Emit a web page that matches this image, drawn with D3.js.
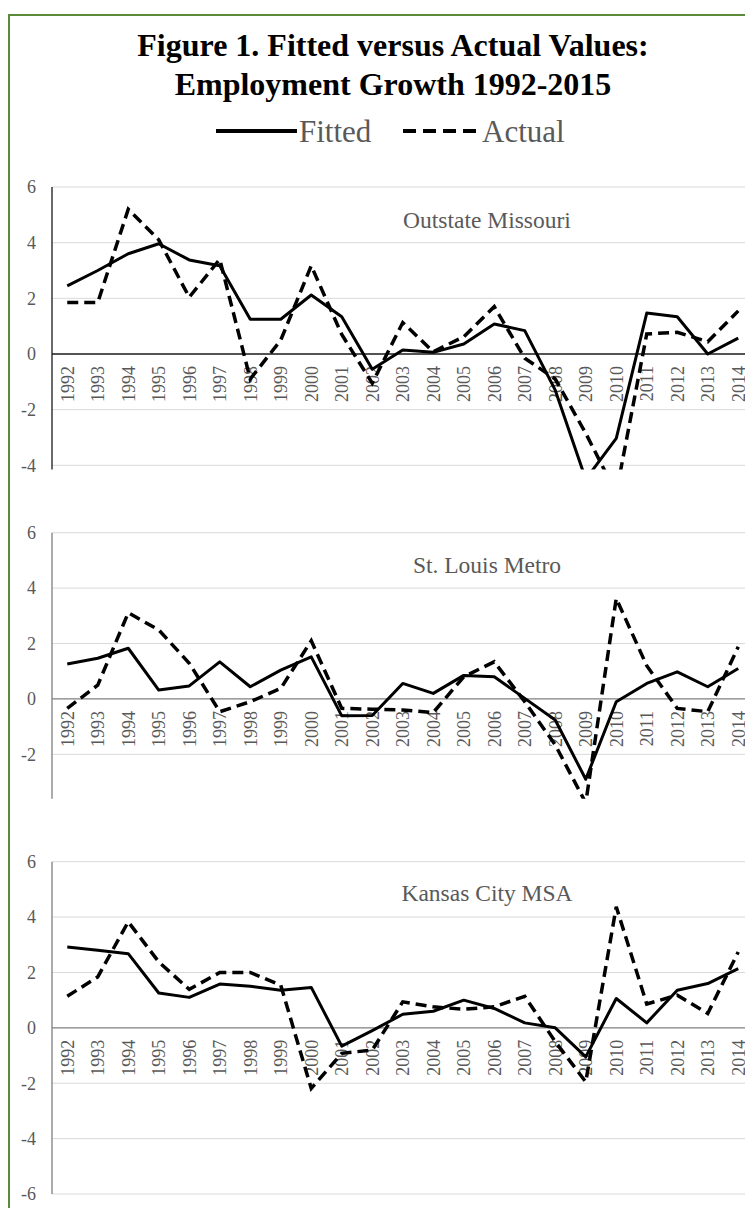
<!DOCTYPE html>
<meta charset="utf-8">
<head>
<script src="https://d3js.org/d3.v7.min.js"></script>
<style>
  body { margin: 0; background: #fff; }
  svg text { font-family: "Liberation Serif", "Times New Roman", serif; }
</style>
</head>
<body>
<svg id="chart" width="745" height="1208"></svg>

<script>
// data (annual employment growth, %)
var years = ["1992","1993","1994","1995","1996","1997","1998","1999","2000","2001","2002","2003",
             "2004","2005","2006","2007","2008","2009","2010","2011","2012","2013","2014"];

var outstateFitted = [2.45, 3.0, 3.6, 3.96, 3.38, 3.17, 1.25, 1.25, 2.12, 1.34, -0.55, 0.14,
                      0.06, 0.36, 1.08, 0.84, -1.3, -4.5, -3.03, 1.47, 1.34, 0.0, 0.57];
var outstateActual = [1.85, 1.85, 5.2, 4.1, 2.04, 3.4, -0.9, 0.5, 3.17, 0.7, -1.05, 1.13,
                      0.08, 0.62, 1.7, -0.15, -0.9, -2.85, -5.0, 0.72, 0.78, 0.44, 1.55];

var stlFitted = [1.26, 1.47, 1.83, 0.32, 0.47, 1.34, 0.44, 1.04, 1.52, -0.61, -0.6, 0.56,
                 0.2, 0.85, 0.8, 0.02, -0.76, -2.9, -0.1, 0.56, 0.98, 0.44, 1.1];
var stlActual = [-0.34, 0.5, 3.11, 2.49, 1.29, -0.46, -0.1, 0.38, 2.1, -0.34, -0.37, -0.4,
                 -0.49, 0.8, 1.34, -0.1, -1.66, -3.75, 3.63, 1.2, -0.34, -0.46, 1.88];

var kcFitted = [2.92, 2.8, 2.68, 1.26, 1.1, 1.58, 1.5, 1.36, 1.46, -0.66, -0.1, 0.49,
                0.6, 1.0, 0.7, 0.18, 0.0, -1.05, 1.06, 0.18, 1.36, 1.6, 2.14];
var kcActual = [1.14, 1.84, 3.83, 2.38, 1.39, 2.0, 2.0, 1.54, -2.19, -0.92, -0.8, 0.94,
                0.76, 0.67, 0.76, 1.14, -0.5, -1.95, 4.37, 0.86, 1.18, 0.52, 2.74];

var panelNames = ["Outstate Missouri", "St. Louis Metro", "Kansas City MSA"];
var panelTicks = [[-4, -2, 0, 2, 4, 6], [-2, 0, 2, 4, 6], [-6, -4, -2, 0, 2, 4, 6]];
var panelDomains = [[-4.15, 6], [-3.6, 6], [-6, 6]];

var seriesNames = ["Fitted", "Actual"];

// layout
var svg = d3.select("#chart");
var textGray = "#595959";
var gridGray = "#d9d9d9";
var panels = [
  { name: panelNames[0], fitted: outstateFitted, actual: outstateActual, top: 187, bottom: 469.5, axis: "#1a1a1a" },
  { name: panelNames[1], fitted: stlFitted, actual: stlActual, top: 532.7, bottom: 798.7, axis: "#7f7f7f" },
  { name: panelNames[2], fitted: kcFitted, actual: kcActual, top: 861.7, bottom: 1194, axis: "#7f7f7f" }
];

// green frame (cut off on the right and bottom like the original)
svg.append("rect")
  .attr("x", 9).attr("y", 15)
  .attr("width", 800).attr("height", 1300)
  .attr("fill", "none")
  .attr("stroke", "#5b8b3a")
  .attr("stroke-width", 2);

// title
var title = svg.append("text")
  .attr("text-anchor", "middle")
  .attr("font-weight", "bold")
  .attr("font-size", 32)
  .attr("fill", "#000");
title.append("tspan").attr("x", 393).attr("y", 56).text("Figure 1. Fitted versus Actual Values:");
title.append("tspan").attr("x", 393).attr("y", 95).text("Employment Growth 1992-2015");

// legend
var legend = svg.append("g");
legend.append("line")
  .attr("x1", 216).attr("x2", 297).attr("y1", 131).attr("y2", 131)
  .attr("stroke", "#000").attr("stroke-width", 4);
legend.append("text")
  .attr("x", 299).attr("y", 142)
  .attr("font-size", 31).attr("fill", textGray)
  .text(seriesNames[0]);
legend.append("line")
  .attr("x1", 403).attr("x2", 477).attr("y1", 131).attr("y2", 131)
  .attr("stroke", "#000").attr("stroke-width", 4)
  .attr("stroke-dasharray", "13,7");
legend.append("text")
  .attr("x", 482).attr("y", 142)
  .attr("font-size", 31).attr("fill", textGray)
  .text(seriesNames[1]);

var x = d3.scaleBand()
  .domain(years)
  .range([52, 52 + years.length * 30.5]);

panels.forEach(function(p, i) {
  var y = d3.scaleLinear()
    .domain(panelDomains[i])
    .range([p.bottom, p.top]);

  var g = svg.append("g");

  // gridlines
  g.selectAll(".grid")
    .data(panelTicks[i].filter(function(t) { return t !== 0; }))
    .enter().append("line")
      .attr("x1", x.range()[0]).attr("x2", x.range()[1])
      .attr("y1", function(d) { return y(d); })
      .attr("y2", function(d) { return y(d); })
      .attr("stroke", gridGray).attr("stroke-width", 1);

  // y tick labels
  g.selectAll(".ylab")
    .data(panelTicks[i])
    .enter().append("text")
      .attr("x", 36)
      .attr("y", function(d) { return y(d); })
      .attr("dy", "0.35em")
      .attr("text-anchor", "end")
      .attr("font-size", 18)
      .attr("fill", textGray)
      .text(function(d) { return d; });

  // vertical axis
  g.append("line")
    .attr("x1", x.range()[0]).attr("x2", x.range()[0])
    .attr("y1", p.top).attr("y2", p.bottom)
    .attr("stroke", p.axis).attr("stroke-width", 1.3);

  // zero line
  g.append("line")
    .attr("x1", x.range()[0]).attr("x2", x.range()[1])
    .attr("y1", y(0)).attr("y2", y(0))
    .attr("stroke", p.axis).attr("stroke-width", 1.3);

  // year labels, rotated
  g.selectAll(".xlab")
    .data(years)
    .enter().append("text")
      .attr("transform", function(d) {
        return "translate(" + (x(d) + x.bandwidth() / 2) + "," + (y(0) + 12) + ") rotate(-90)";
      })
      .attr("dy", "0.35em")
      .attr("text-anchor", "end")
      .attr("font-size", 18)
      .attr("fill", textGray)
      .text(function(d) { return d; });

  // panel name
  g.append("text")
    .attr("x", 487)
    .attr("y", p.top + (i === 0 ? 41 : i === 1 ? 40.5 : 39))
    .attr("text-anchor", "middle")
    .attr("font-size", 23.5)
    .attr("fill", textGray)
    .text(p.name);

  // clip lines to the plot area
  svg.append("clipPath").attr("id", "clip" + i)
    .append("rect")
      .attr("x", 0).attr("y", p.top - 20)
      .attr("width", 800).attr("height", p.bottom - p.top + 20);

  var line = d3.line()
    .x(function(d, j) { return x(years[j]) + x.bandwidth() / 2; })
    .y(function(d) { return y(d); });

  g.append("path")
    .attr("clip-path", "url(#clip" + i + ")")
    .attr("d", line(p.fitted))
    .attr("fill", "none")
    .attr("stroke", "#000")
    .attr("stroke-width", 3)
    .attr("stroke-linejoin", "round");

  g.append("path")
    .attr("clip-path", "url(#clip" + i + ")")
    .attr("d", line(p.actual))
    .attr("fill", "none")
    .attr("stroke", "#000")
    .attr("stroke-width", 3.5)
    .attr("stroke-dasharray", "11,6");
});
</script>
</body>
